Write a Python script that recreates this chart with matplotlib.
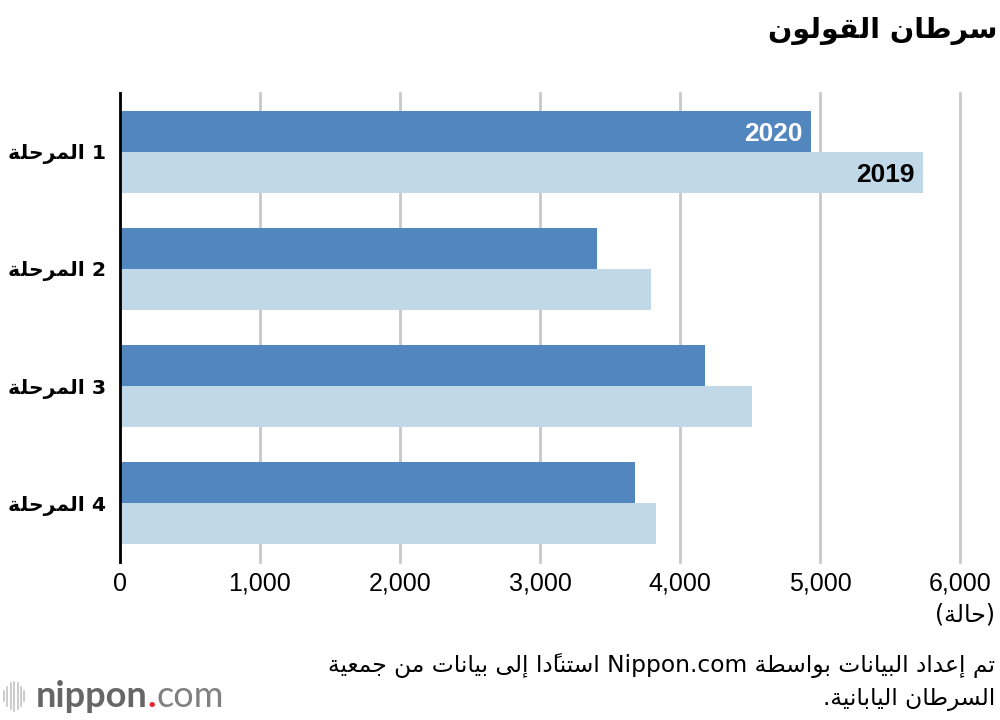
import matplotlib
matplotlib.use("Agg")
import matplotlib.pyplot as plt
from matplotlib.lines import Line2D

# ---- data ----
stages = ["المرحلة 1", "المرحلة 2", "المرحلة 3", "المرحلة 4"]
cases_2020 = [4933, 3405, 4179, 3681]
cases_2019 = [5733, 3795, 4517, 3831]
x_ticks = [0, 1000, 2000, 3000, 4000, 5000, 6000]
title = "سرطان القولون"
unit = "(حالة)"
source_lines = ["تم إعداد البيانات بواسطة Nippon.com استنادًا إلى بيانات من جمعية",
                "السرطان اليابانية."]

# ---- minimal arabic shaping + bidi (matplotlib has no complex text layout) ----
FORMS = {  # isolated, final, initial, medial
    '\u0625': ('\uFE87', '\uFE88', None, None),
    '\u0627': ('\uFE8D', '\uFE8E', None, None),
    '\u0628': ('\uFE8F', '\uFE90', '\uFE91', '\uFE92'),
    '\u0629': ('\uFE93', '\uFE94', None, None),
    '\u062A': ('\uFE95', '\uFE96', '\uFE97', '\uFE98'),
    '\u062C': ('\uFE9D', '\uFE9E', '\uFE9F', '\uFEA0'),
    '\u062D': ('\uFEA1', '\uFEA2', '\uFEA3', '\uFEA4'),
    '\u062F': ('\uFEA9', '\uFEAA', None, None),
    '\u0631': ('\uFEAD', '\uFEAE', None, None),
    '\u0633': ('\uFEB1', '\uFEB2', '\uFEB3', '\uFEB4'),
    '\u0637': ('\uFEC1', '\uFEC2', '\uFEC3', '\uFEC4'),
    '\u0639': ('\uFEC9', '\uFECA', '\uFECB', '\uFECC'),
    '\u0642': ('\uFED5', '\uFED6', '\uFED7', '\uFED8'),
    '\u0644': ('\uFEDD', '\uFEDE', '\uFEDF', '\uFEE0'),
    '\u0645': ('\uFEE1', '\uFEE2', '\uFEE3', '\uFEE4'),
    '\u0646': ('\uFEE5', '\uFEE6', '\uFEE7', '\uFEE8'),
    '\u0647': ('\uFEE9', '\uFEEA', '\uFEEB', '\uFEEC'),
    '\u0648': ('\uFEED', '\uFEEE', None, None),
    '\u0649': ('\uFEEF', '\uFEF0', None, None),
    '\u064A': ('\uFEF1', '\uFEF2', '\uFEF3', '\uFEF4'),
}
LAMALEF = {'\u0627': ('\uFEFB', '\uFEFC'), '\u0625': ('\uFEF9', '\uFEFA')}
MARKS = set(chr(c) for c in range(0x064B, 0x0653))


def shape(text):
    chars = list(text)
    n = len(chars)

    def neighbour(i, step):
        j = i + step
        while 0 <= j < n and chars[j] in MARKS:
            j += step
        return j if 0 <= j < n and chars[j] in FORMS else None

    out = []
    i = 0
    while i < n:
        c = chars[i]
        if c not in FORMS:
            out.append(c)
            i += 1
            continue
        p = neighbour(i, -1)
        join_prev = p is not None and FORMS[chars[p]][2] is not None
        nx = neighbour(i, 1)
        if c == '\u0644' and nx is not None and chars[nx] in LAMALEF:
            out.append(LAMALEF[chars[nx]][1 if join_prev else 0])
            i = nx + 1
            continue
        join_next = FORMS[c][2] is not None and nx is not None
        iso, fin, ini, med = FORMS[c]
        if join_prev and join_next:
            out.append(med)
        elif join_prev:
            out.append(fin)
        elif join_next:
            out.append(ini)
        else:
            out.append(iso)
        i += 1
    return ''.join(out)


def is_rtl(c):
    o = ord(c)
    return 0x0600 <= o <= 0x06FF or 0xFE70 <= o <= 0xFEFF


def reverse_clusters(s):
    clusters = []
    for c in s:
        if c in MARKS and clusters:
            clusters[-1] += c
        else:
            clusters.append(c)
    mirror = {'(': ')', ')': '('}
    return ''.join(mirror.get(cl, cl) for cl in reversed(clusters))


def arabic(text, rtl_base=True):
    s = shape(text)
    base = 'R' if rtl_base else 'L'
    dirs = []
    for c in s:
        if c in MARKS:
            dirs.append('M')
        elif is_rtl(c):
            dirs.append('R')
        elif c.isalnum():
            dirs.append('L')
        else:
            dirs.append('N')
    for k, d in enumerate(dirs):
        if d == 'M':
            dirs[k] = dirs[k - 1] if k else base
    strong = [d if d in 'LR' else None for d in dirs]
    for k, d in enumerate(dirs):
        if d == 'N':
            before = next((strong[j] for j in range(k - 1, -1, -1) if strong[j]), base)
            after = next((strong[j] for j in range(k + 1, len(s)) if strong[j]), base)
            dirs[k] = before if before == after else base
    runs = []
    for c, d in zip(s, dirs):
        if runs and runs[-1][0] == d:
            runs[-1][1] += c
        else:
            runs.append([d, c])
    parts = [reverse_clusters(t) if d == 'R' else t for d, t in runs]
    if rtl_base:
        parts = parts[::-1]
    return ''.join(parts)


# ---- figure ----
AR = ['DejaVu Sans']
NUM = ['Liberation Sans', 'DejaVu Sans']
LOGO = ['Lato', 'DejaVu Sans']
c2020 = '#5286bf'
c2019 = '#c1d8e8'

fig = plt.figure(figsize=(10, 7.2), dpi=100)
ax = fig.add_axes([0.12, 0.2194, 0.84, 0.6514])

y = list(range(len(stages)))
h = 0.35
ax.barh([v - h / 2 for v in y], cases_2020, height=h, color=c2020, zorder=3)
ax.barh([v + h / 2 for v in y], cases_2019, height=h, color=c2019, zorder=3)

ax.set_xlim(0, 6000)
ax.set_ylim(3.5, -0.5)
ax.set_xticks(x_ticks)
ax.set_xticklabels([f"{t:,}" for t in x_ticks], family=NUM, fontsize=18)
ax.set_yticks(y)
ax.set_yticklabels([arabic(s, rtl_base=False) for s in stages], family=AR,
                   fontsize=14.7, fontweight='bold')
ax.tick_params(axis='x', length=0, pad=7)
ax.tick_params(axis='y', length=0, pad=10)
ax.grid(axis='x', color='#c8c8c8', linewidth=2, zorder=0)
ax.grid(axis='y', visible=False)
for line in ax.get_xgridlines():
    line.set_clip_on(False)
for side in ['top', 'right', 'bottom']:
    ax.spines[side].set_visible(False)
ax.spines['left'].set_color('black')
ax.spines['left'].set_linewidth(2)
ax.spines['left'].set_zorder(4)

ax.text(cases_2020[0] - 60, 0 - h / 2 + 0.025, "2020", ha='right', va='center',
        color='white', fontsize=19, fontweight='bold', family=NUM, zorder=5)
ax.text(cases_2019[0] - 60, 0 + h / 2 + 0.025, "2019", ha='right', va='center',
        color='black', fontsize=19, fontweight='bold', family=NUM, zorder=5)

fig.text(0.997, 0.957, arabic(title), ha='right', va='center', family=AR,
         fontsize=20.5, fontweight='bold')
fig.text(0.995, 0.146, arabic(unit, rtl_base=False), ha='right', va='center',
         family=AR, fontsize=17)
fig.text(0.995, 0.076, arabic(source_lines[0]), ha='right', va='center',
         family=AR, fontsize=16.8)
fig.text(0.995, 0.028, arabic(source_lines[1]), ha='right', va='center',
         family=AR, fontsize=16.8)

# nippon.com logo
for i, hh in enumerate([0.014, 0.026, 0.036, 0.04, 0.036, 0.026, 0.014]):
    xx = 0.004 + i * 0.0034
    fig.add_artist(Line2D([xx, xx], [0.033 - hh / 2, 0.033 + hh / 2],
                          color='#bdbdbd', linewidth=1.1))
renderer = fig.canvas.get_renderer()
x0 = 0.036
for txt, weight, col in [("nippon", 'bold', '#666666'), (".", 'bold', '#e8262d'),
                         ("com", 'normal', '#808080')]:
    t = fig.text(x0, 0.032, txt, ha='left', va='center', family=LOGO,
                 fontsize=26, fontweight=weight, color=col)
    x0 = t.get_window_extent(renderer).x1 / fig.bbox.width

fig.savefig('out.png', dpi=100)
